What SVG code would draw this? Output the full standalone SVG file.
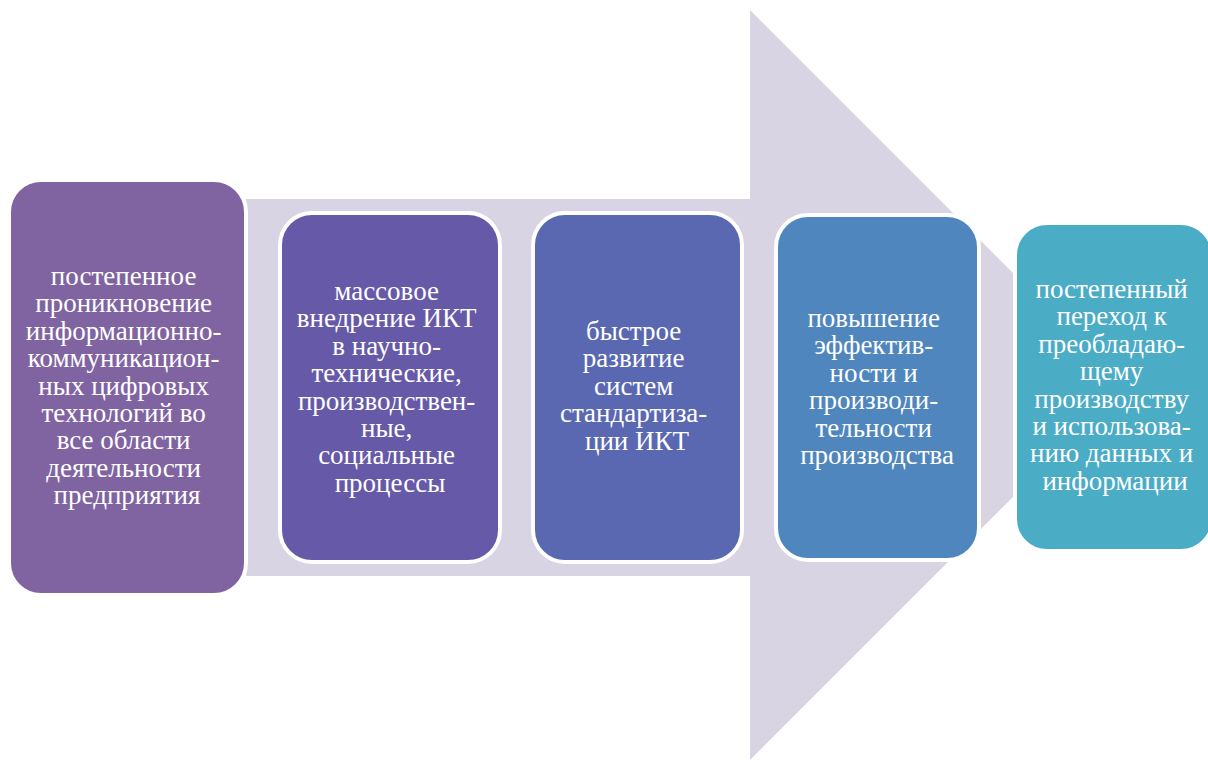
<svg xmlns="http://www.w3.org/2000/svg" width="1208" height="760" viewBox="0 0 1208 760">
  <style>
    .step { stroke: #ffffff; stroke-width: 4; }
    .lbl { font-family: "Liberation Serif", "Times New Roman", serif; font-size: 27px; fill: #ffffff; text-anchor: middle; }
  </style>
  <rect width="1208" height="760" fill="#ffffff"/>
  <g id="connectors">
    <!-- broad background arrow -->
    <polygon points="246,199 750,199 750,10 1125,385 750,760 750,576 246,576" fill="#d8d4e3"/>
  </g>
  <g id="node1">
    <rect class="step" x="9" y="180" width="237" height="415" rx="32" fill="#8064a2"/>
    <text class="lbl">
      <tspan x="127" y="285">постепенное</tspan>
      <tspan x="127" y="312.4">проникновение</tspan>
      <tspan x="127" y="339.8">информационно-</tspan>
      <tspan x="127" y="367.2">коммуникацион-</tspan>
      <tspan x="127" y="394.6">ных цифровых</tspan>
      <tspan x="127" y="422">технологий во</tspan>
      <tspan x="127" y="449.4">все области</tspan>
      <tspan x="127" y="476.8">деятельности</tspan>
      <tspan x="127" y="504.2">предприятия</tspan>
    </text>
  </g>
  <g id="node2">
    <rect class="step" x="280" y="213" width="220" height="349" rx="32" fill="#665aa8"/>
    <text class="lbl">
      <tspan x="390" y="300">массовое</tspan>
      <tspan x="390" y="327.4">внедрение ИКТ</tspan>
      <tspan x="390" y="354.8">в научно-</tspan>
      <tspan x="390" y="382.2">технические,</tspan>
      <tspan x="390" y="409.6">производствен-</tspan>
      <tspan x="390" y="437">ные,</tspan>
      <tspan x="390" y="464.4">социальные</tspan>
      <tspan x="390" y="491.8">процессы</tspan>
    </text>
  </g>
  <g id="node3">
    <rect class="step" x="533" y="213" width="209" height="349" rx="32" fill="#5a68b2"/>
    <text class="lbl">
      <tspan x="637" y="340">быстрое</tspan>
      <tspan x="637" y="367.4">развитие</tspan>
      <tspan x="637" y="394.8">систем</tspan>
      <tspan x="637" y="422.2">стандартиза-</tspan>
      <tspan x="637" y="449.6">ции ИКТ</tspan>
    </text>
  </g>
  <g id="node4">
    <rect class="step" x="776" y="215" width="203" height="345" rx="32" fill="#4f86bd"/>
    <text class="lbl">
      <tspan x="877" y="327">повышение</tspan>
      <tspan x="877" y="354.4">эффектив-</tspan>
      <tspan x="877" y="381.8">ности и</tspan>
      <tspan x="877" y="409.2">производи-</tspan>
      <tspan x="877" y="436.6">тельности</tspan>
      <tspan x="877" y="464">производства</tspan>
    </text>
  </g>
  <g id="node5">
    <rect class="step" x="1015" y="223" width="198" height="328" rx="32" fill="#4bacc6"/>
    <text class="lbl">
      <tspan x="1115" y="298">постепенный</tspan>
      <tspan x="1115" y="325.4">переход к</tspan>
      <tspan x="1115" y="352.8">преобладаю-</tspan>
      <tspan x="1115" y="380.2">щему</tspan>
      <tspan x="1115" y="407.6">производству</tspan>
      <tspan x="1115" y="435">и использова-</tspan>
      <tspan x="1115" y="462.4">нию данных и</tspan>
      <tspan x="1115" y="489.8">информации</tspan>
    </text>
  </g>
</svg>
